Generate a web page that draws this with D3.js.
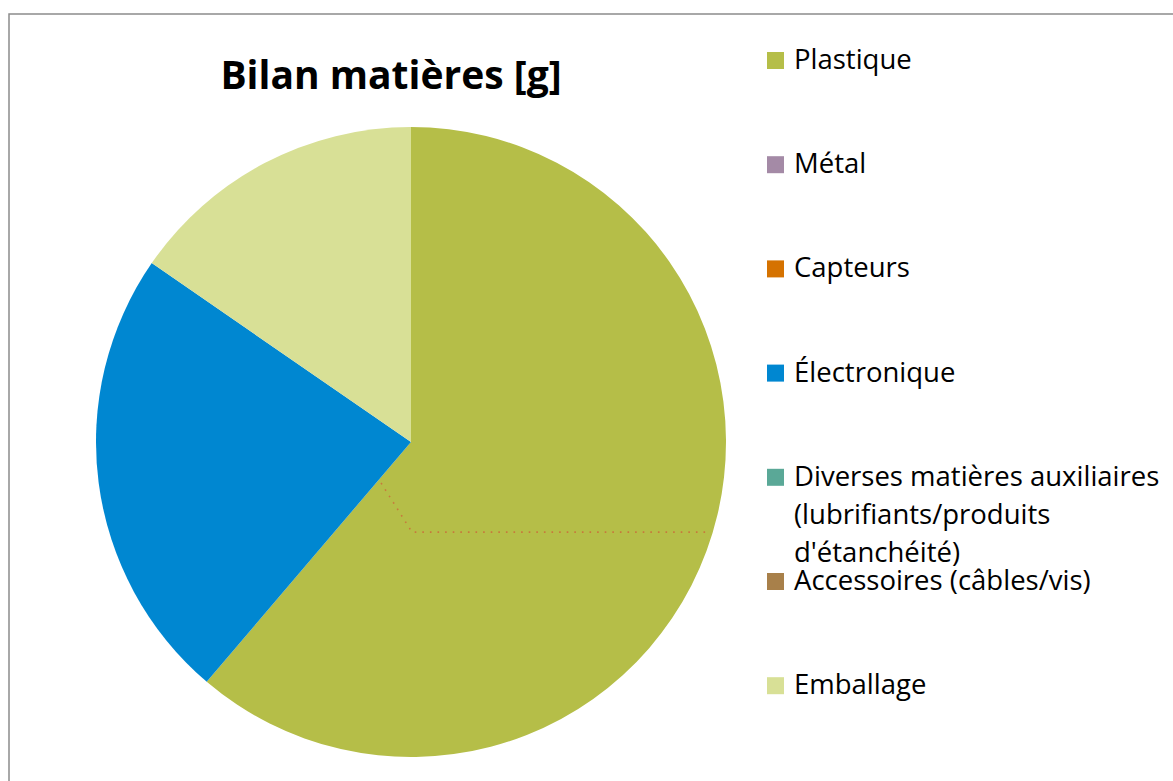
<!DOCTYPE html>
<html>
<head>
<meta charset="utf-8">
<script src="https://cdn.jsdelivr.net/npm/d3@7"></script>
<style>
    body { margin: 0; background: #fff; }
    svg { display: block; font-family: "Open Sans", sans-serif; }
</style>
</head>
<body>
<div id="chart"></div>
<script>
// data
var categories = [
    "Plastique",
    "Métal",
    "Capteurs",
    "Électronique",
    "Diverses matières auxiliaires (lubrifiants/produits d'étanchéité)",
    "Accessoires (câbles/vis)",
    "Emballage"
];
var values = [398, 0, 0, 152, 0, 0, 100];
var colors = ["#b5be48", "#a48aa6", "#d57200", "#0087d1", "#5aa897", "#a8804a", "#d8e096"];
var title = "Bilan matières [g]";

var width = 1173, height = 781;
var cx = 411, cy = 442, radius = 315;

var svg = d3.select("#chart")
    .append("svg")
    .attr("width", width)
    .attr("height", height);

// chart area frame (runs off the right and bottom edge)
svg.append("rect")
    .attr("x", 9)
    .attr("y", 14)
    .attr("width", width + 20)
    .attr("height", height + 20)
    .attr("fill", "#fff")
    .attr("stroke", "#8c8c8c")
    .attr("stroke-width", 1.5);

svg.append("text")
    .attr("x", 391)
    .attr("y", 89)
    .attr("text-anchor", "middle")
    .attr("font-size", 39)
    .attr("font-weight", "bold")
    .attr("fill", "#000")
    .text(title);

var data = categories.map(function(c, i) { return { name: c, value: values[i], color: colors[i] }; });

var pie = d3.pie()
    .sort(null)
    .value(function(d) { return d.value; });

var arc = d3.arc()
    .innerRadius(0)
    .outerRadius(radius);

var g = svg.append("g")
    .attr("transform", "translate(" + cx + "," + cy + ")");

g.selectAll("path.slice")
    .data(pie(data))
    .enter()
    .append("path")
    .attr("class", "slice")
    .attr("d", arc)
    .attr("fill", function(d) { return d.data.color; });

// leader line of the empty slices' label
var leader = [[-0.095, 0.13], [0.003, 0.286], [0.95, 0.286]].map(function(p) {
    return [p[0] * radius, p[1] * radius];
});
g.append("path")
    .attr("d", d3.line()(leader))
    .attr("fill", "none")
    .attr("stroke", "#c8783c")
    .attr("stroke-width", 1.6)
    .attr("stroke-dasharray", "1.6,6");

// legend
var legendX = 767, legendTop = 69, legendStep = 104.2, lineStep = 38;
var legend = svg.append("g").attr("class", "legend");

var items = legend.selectAll("g.item")
    .data(data)
    .enter()
    .append("g")
    .attr("class", "item")
    .attr("transform", function(d, i) { return "translate(" + legendX + "," + (legendTop + i * legendStep) + ")"; });

items.append("rect")
    .attr("x", 0)
    .attr("y", -17)
    .attr("width", 17)
    .attr("height", 17)
    .attr("fill", function(d) { return d.color; });

items.append("text")
    .attr("x", 27)
    .attr("y", 0)
    .attr("font-size", 27.5)
    .attr("fill", "#000")
    .each(function(d) {
        var text = d3.select(this);
        var words = d.name.split(" ");
        var line = [];
        var tspan = text.append("tspan").attr("x", 27).attr("dy", 0);
        words.forEach(function(w) {
            line.push(w);
            tspan.text(line.join(" "));
            if (tspan.node().getComputedTextLength() > 378 && line.length > 1) {
                line.pop();
                tspan.text(line.join(" "));
                line = [w];
                tspan = text.append("tspan").attr("x", 27).attr("dy", lineStep).text(w);
            }
        });
    });
</script>
</body>
</html>
